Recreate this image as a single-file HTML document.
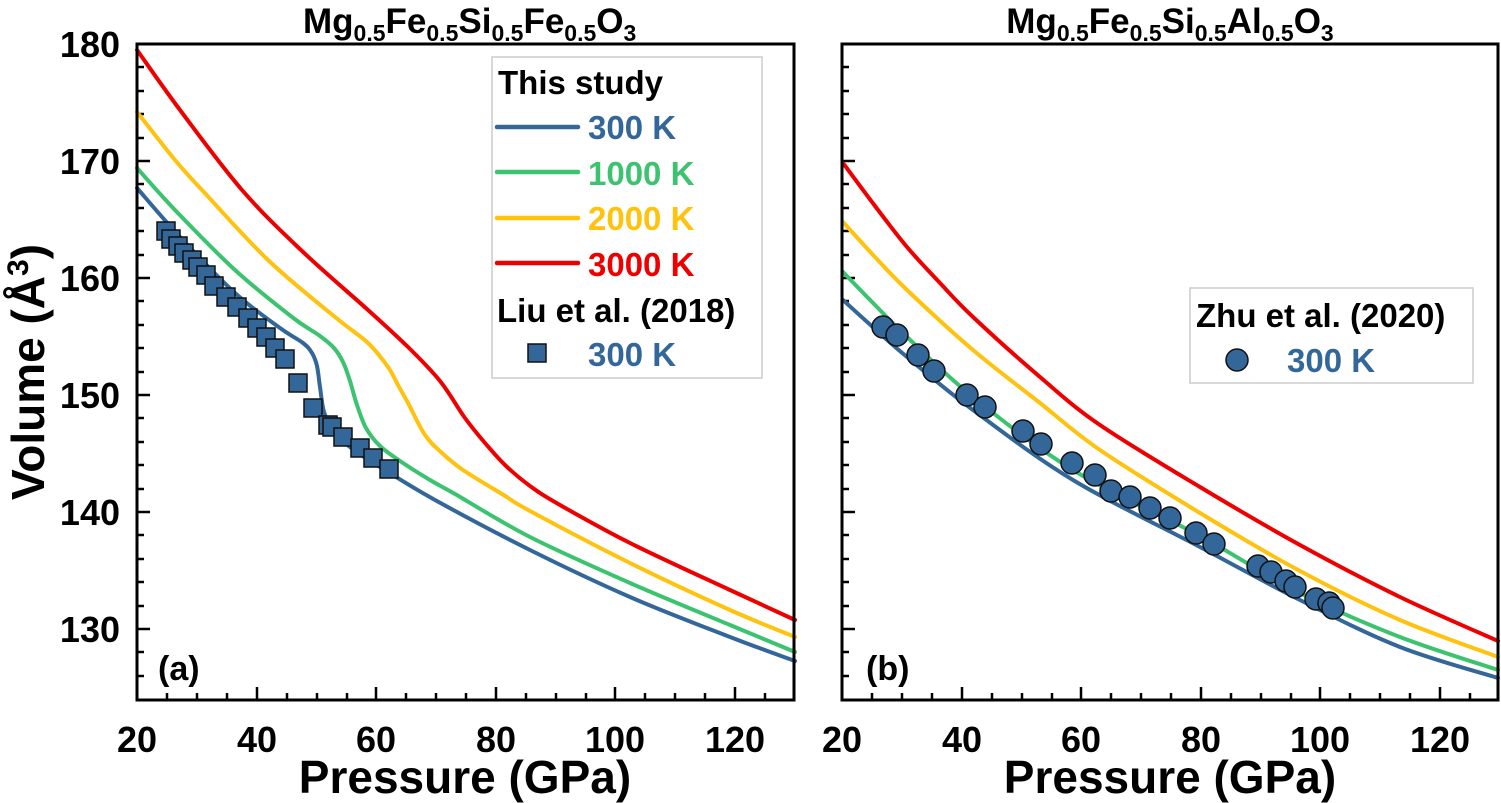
<!DOCTYPE html>
<html><head><meta charset="utf-8"><style>
html,body{margin:0;padding:0;background:#fff;}
svg{display:block;font-family:"Liberation Sans",Arial,sans-serif;font-weight:bold;}
</style></head><body>
<svg id="s" width="1501" height="803" viewBox="0 0 1501 803" xmlns="http://www.w3.org/2000/svg">
<text x="303" y="33" font-size="35">Mg<tspan font-size="23" dy="8">0.5</tspan><tspan dy="-8">Fe</tspan><tspan font-size="23" dy="8">0.5</tspan><tspan dy="-8">Si</tspan><tspan font-size="23" dy="8">0.5</tspan><tspan dy="-8">Fe</tspan><tspan font-size="23" dy="8">0.5</tspan><tspan dy="-8">O</tspan><tspan font-size="23" dy="8">3</tspan></text>
<text x="1170" y="33" font-size="35" text-anchor="middle">Mg<tspan font-size="23" dy="8">0.5</tspan><tspan dy="-8">Fe</tspan><tspan font-size="23" dy="8">0.5</tspan><tspan dy="-8">Si</tspan><tspan font-size="23" dy="8">0.5</tspan><tspan dy="-8">Al</tspan><tspan font-size="23" dy="8">0.5</tspan><tspan dy="-8">O</tspan><tspan font-size="23" dy="8">3</tspan></text>

<text transform="translate(44,372) rotate(-90)" text-anchor="middle" font-size="46">Volume (Å<tspan font-size="30" dy="-16">3</tspan><tspan dy="16">)</tspan></text>

<g font-size="36" text-anchor="end">
<text x="120" y="57">180</text>
<text x="120" y="174">170</text>
<text x="120" y="291">160</text>
<text x="120" y="408">150</text>
<text x="120" y="525">140</text>
<text x="120" y="642">130</text>
</g>

<g font-size="36" text-anchor="middle">
<text x="137" y="752">20</text><text x="257" y="752">40</text><text x="376" y="752">60</text><text x="496" y="752">80</text><text x="615" y="752">100</text><text x="735" y="752">120</text>
<text x="842" y="752">20</text><text x="962" y="752">40</text><text x="1081" y="752">60</text><text x="1201" y="752">80</text><text x="1320" y="752">100</text><text x="1440" y="752">120</text>
</g>
<g font-size="46" text-anchor="middle">
<text x="465" y="793">Pressure (GPa)</text>
<text x="1170" y="793">Pressure (GPa)</text>
</g>

<g stroke="#000" stroke-width="2.5">
<path d="
M137,700v-13 M167,700v-7 M197,700v-7 M227,700v-7 M257,700v-13 M287,700v-7 M317,700v-7 M347,700v-7 M376,700v-13 M406,700v-7 M436,700v-7 M466,700v-7 M496,700v-13 M526,700v-7 M556,700v-7 M586,700v-7 M615,700v-13 M645,700v-7 M675,700v-7 M705,700v-7 M735,700v-13 M765,700v-7
M842,700v-13 M872,700v-7 M902,700v-7 M932,700v-7 M962,700v-13 M992,700v-7 M1022,700v-7 M1052,700v-7 M1081,700v-13 M1111,700v-7 M1141,700v-7 M1171,700v-7 M1201,700v-13 M1231,700v-7 M1261,700v-7 M1291,700v-7 M1320,700v-13 M1350,700v-7 M1380,700v-7 M1410,700v-7 M1440,700v-13 M1470,700v-7
M137,44h13 M137,67h7 M137,91h7 M137,114h7 M137,138h7 M137,161h13 M137,184h7 M137,208h7 M137,231h7 M137,255h7 M137,278h13 M137,301h7 M137,325h7 M137,348h7 M137,372h7 M137,395h13 M137,418h7 M137,442h7 M137,465h7 M137,489h7 M137,512h13 M137,535h7 M137,559h7 M137,582h7 M137,606h7 M137,629h13 M137,652h7 M137,676h7
M842,44h13 M842,67h7 M842,91h7 M842,114h7 M842,138h7 M842,161h13 M842,184h7 M842,208h7 M842,231h7 M842,255h7 M842,278h13 M842,301h7 M842,325h7 M842,348h7 M842,372h7 M842,395h13 M842,418h7 M842,442h7 M842,465h7 M842,489h7 M842,512h13 M842,535h7 M842,559h7 M842,582h7 M842,606h7 M842,629h13 M842,652h7 M842,676h7
"/>
</g>

<g id="curves" fill="none" stroke-width="4" stroke-linejoin="round" stroke-linecap="round"></g>

<g fill="#336699" stroke="#111" stroke-width="1.5">
<rect x="157" y="222" width="18" height="18"/><rect x="162" y="230" width="18" height="18"/><rect x="169" y="237" width="18" height="18"/><rect x="175" y="244" width="18" height="18"/><rect x="183" y="251" width="18" height="18"/><rect x="189" y="258" width="18" height="18"/><rect x="197" y="266" width="18" height="18"/><rect x="205" y="277" width="18" height="18"/><rect x="217" y="288" width="18" height="18"/><rect x="228" y="298" width="18" height="18"/><rect x="239" y="309" width="18" height="18"/><rect x="248" y="319" width="18" height="18"/><rect x="257" y="328" width="18" height="18"/><rect x="266" y="339" width="18" height="18"/><rect x="276" y="350" width="18" height="18"/><rect x="289" y="374" width="18" height="18"/><rect x="304" y="399" width="18" height="18"/><rect x="319" y="416" width="18" height="18"/><rect x="323" y="418" width="18" height="18"/><rect x="334" y="428" width="18" height="18"/><rect x="351" y="439" width="18" height="18"/><rect x="364" y="449" width="18" height="18"/><rect x="380" y="460" width="18" height="18"/>
</g>

<g fill="#336699" stroke="#111" stroke-width="1.5">
<circle cx="883" cy="327" r="11"/><circle cx="897" cy="335" r="11"/><circle cx="918" cy="355" r="11"/><circle cx="934" cy="371" r="11"/><circle cx="967" cy="395" r="11"/><circle cx="985" cy="407" r="11"/><circle cx="1023" cy="431" r="11"/><circle cx="1041" cy="444" r="11"/><circle cx="1072" cy="463" r="11"/><circle cx="1095" cy="475" r="11"/><circle cx="1111" cy="491" r="11"/><circle cx="1130" cy="497" r="11"/><circle cx="1150" cy="508" r="11"/><circle cx="1170" cy="518" r="11"/><circle cx="1196" cy="533" r="11"/><circle cx="1214" cy="544" r="11"/><circle cx="1258" cy="566" r="11"/><circle cx="1271" cy="572" r="11"/><circle cx="1286" cy="581" r="11"/><circle cx="1295" cy="587" r="11"/><circle cx="1316" cy="599" r="11"/><circle cx="1329" cy="603" r="11"/><circle cx="1333" cy="608" r="11"/>
</g>

<text x="158" y="680" font-size="34">(a)</text>
<text x="866" y="680" font-size="34">(b)</text>

<rect x="492" y="57" width="270" height="321" fill="#fff" stroke="#cccccc" stroke-width="1.5"/>
<text x="498" y="94" font-size="33">This study</text>
<g stroke-width="4.5" stroke-linecap="round">
<line x1="497" y1="127" x2="578" y2="127" stroke="#336699"/>
<line x1="497" y1="172" x2="578" y2="172" stroke="#3cc36f"/>
<line x1="497" y1="218" x2="578" y2="218" stroke="#ffc20e"/>
<line x1="497" y1="263" x2="578" y2="263" stroke="#ee0000"/>
</g>
<g font-size="33">
<text x="588" y="139" fill="#336699">300 K</text>
<text x="588" y="185" fill="#3cc36f">1000 K</text>
<text x="588" y="230" fill="#ffc20e">2000 K</text>
<text x="588" y="276" fill="#ee0000">3000 K</text>
<text x="497" y="322" fill="#000">Liu et al. (2018)</text>
<text x="588" y="366" fill="#336699">300 K</text>
</g>
<rect x="528" y="344" width="18" height="18" fill="#336699" stroke="#111" stroke-width="1.5"/>

<rect x="1190" y="288" width="283" height="95" fill="#fff" stroke="#cccccc" stroke-width="1.5"/>
<text x="1196" y="327" font-size="33">Zhu et al. (2020)</text>
<circle cx="1237" cy="360" r="11" fill="#336699" stroke="#111" stroke-width="1.5"/>
<text x="1287" y="372" font-size="33" fill="#336699">300 K</text>

<g fill="none" stroke="#000" stroke-width="3">
<rect x="137" y="44" width="657" height="656"/>
<rect x="842" y="44" width="656" height="656"/>
</g>
</svg>
<script>
var C={r:"#ee0000",y:"#ffc20e",g:"#3cc36f",b:"#336699"};
var series=[
["r",[[137,50],[180,110],[242,190],[302,251],[368,310],[408,347],[440,381],[465,418],[485,443],[505,465],[530,486],[560,505],[630,543],[730,590],[795,620]]],
["y",[[137,112],[175,160],[202,190],[268,260],[335,317],[368,343],[388,367],[398,385],[408,403],[425,435],[442,453],[463,470],[502,494],[530,511],[630,563],[730,610],[795,637]]],
["g",[[137,168],[175,210],[235,270],[292,317],[320,336],[334,348],[343,362],[350,381],[357,405],[366,428],[380,446],[400,461],[430,480],[455,494],[530,537],[630,583],[730,625],[795,652]]],
["b",[[137,188],[180,237],[235,293],[280,328],[303,343],[312,353],[317,366],[320,387],[324,412],[333,430],[350,447],[380,467],[435,500],[530,550],[630,597],[730,637],[795,661]]],
["r",[[843,163],[875,206],[907,247],[940,283],[973,317],[1040,377],[1100,425],[1200,487],[1300,545],[1400,597],[1498,641]]],
["y",[[843,222],[875,257],[907,290],[973,350],[1040,403],[1100,450],[1200,513],[1300,571],[1400,620],[1498,657]]],
["g",[[843,272],[875,305],[907,337],[973,397],[1073,470],[1200,536],[1300,593],[1400,637],[1498,670]]],
["b",[[843,300],[875,329],[907,357],[973,410],[1073,480],[1200,547],[1300,600],[1400,647],[1498,678]]]
];
function path(p){var d="M"+p[0][0]+","+p[0][1];for(var i=0;i<p.length-1;i++){var a=p[i-1]||p[i],b=p[i],c=p[i+1],e=p[i+2]||c;
var c1x=b[0]+(c[0]-a[0])/6,c1y=b[1]+(c[1]-a[1])/6,c2x=c[0]-(e[0]-b[0])/6,c2y=c[1]-(e[1]-b[1])/6;
d+=" C"+c1x.toFixed(1)+","+c1y.toFixed(1)+" "+c2x.toFixed(1)+","+c2y.toFixed(1)+" "+c[0]+","+c[1];}return d;}
var g=document.getElementById("curves"),ns="http://www.w3.org/2000/svg";
series.forEach(function(s){var el=document.createElementNS(ns,"path");el.setAttribute("d",path(s[1]));el.setAttribute("stroke",C[s[0]]);g.appendChild(el);});
</script>
</body></html>
